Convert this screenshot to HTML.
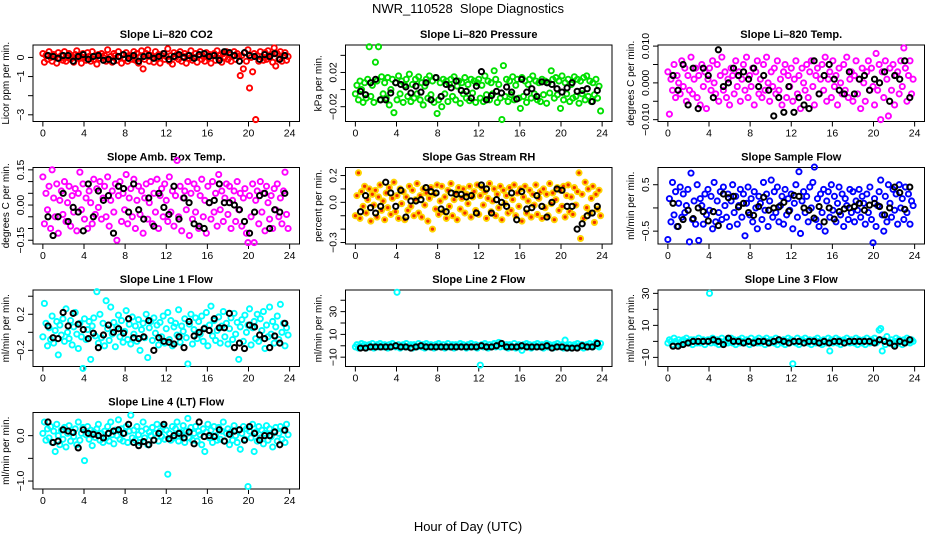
<!DOCTYPE html>
<html><head><meta charset="utf-8">
<style>
html,body{margin:0;padding:0;background:#fff;}
svg{display:block;font-family:"Liberation Sans",Arial,sans-serif;}
</style></head>
<body>
<svg id="chart" width="936" height="540" viewBox="0 0 936 540" xmlns="http://www.w3.org/2000/svg">
<rect width="936" height="540" fill="#fff"/>
<text x="468" y="13" text-anchor="middle" font-size="13">NWR_110528&#160; Slope Diagnostics</text>
<text x="468" y="531" text-anchor="middle" font-size="13">Hour of Day (UTC)</text>
</svg>
<script>
const xTicks = [0,4,8,12,16,20,24];

const co2Vals = [.2,-.25,.1,-.1,.3,0,-.2,.15,.05,-.3,.25,-.05,.1,-.15,.3,-.2,0,.2,-.1,.05,
-.25,.15,.35,-.05,.1,-.3,.2,0,-.15,.25,.05,-.2,.3,-.1,.1,-.35,.15,-.05,.2,0,
.1,-.2,.4,-.1,.05,-.25,.2,.1,-.15,.3,0,-.3,.15,-.05,.25,-.2,.1,.05,-.1,.3,
-.15,.2,-.3,.05,.35,-.6,-.1,.2,.4,-.2,.1,0,-.25,.3,-.05,.15,-.3,.1,.2,-.1,
.05,.45,-.2,.1,-.35,.25,0,.15,-.1,.3,-.2,.05,.2,-.3,.1,-.05,.35,-.15,0,.2,
-.25,.1,.3,-.1,.05,-.2,.25,0,.15,-.3,.1,.2,-.15,.35,-.05,.1,-.25,.2,0,.3,
-.1,.15,-.2,.05,.3,-.1,.2,.05,-.95,.1,-.6,.25,-.2,.4,-1.6,0,-.75,.2,-3.25,.1,
-.2,.3,.05,-.15,.25,-.1,.35,0,.15,-.25,.5,-.45,.2,-.1,.3,-.2,.1,.25,-.15,.05];
const co2Black = [.1,.05,-.05,.1,.1,-.2,.05,.15,-.1,.05,.1,-.15,-.1,-.2,.05,.15,-.05,.1,-.2,.05,.1,-.05,.05,.2,-.1,.05,.15,0,.1,-.05,.15,.2,.05,.1,-.15,.3,.25,.1,-.2,.25,.1,.05,-.1,.15,.05,.2,-.1,.1];

const presVals = [-.005,.005,-.012,.01,0,-.015,.008,-.01,.012,.05,-.008,.005,-.015,.032,.01,.05,-.012,.015,-.005,.008,
-.01,.014,-.018,0,.012,-.027,.008,-.012,.016,-.005,.01,-.015,.005,.012,-.008,.018,-.014,.006,-.01,.012,
-.005,.015,-.012,.008,-.018,.004,.012,-.01,.016,-.006,.01,-.015,.014,-.028,-.012,.008,-.02,.012,-.005,.01,
-.014,.006,.012,-.008,.015,-.012,.004,.01,-.016,.008,-.005,.014,-.01,.006,-.013,.012,-.004,.01,-.015,.008,
.012,-.01,.005,-.014,.016,-.006,.01,-.012,.008,-.005,.022,.012,-.015,.006,-.01,-.035,.028,-.008,.012,-.014,
.01,-.006,.015,-.012,.005,.012,-.01,-.022,.014,-.008,.01,-.015,.006,.012,-.01,.016,-.005,.01,-.012,.008,
-.014,.012,-.006,.01,-.016,.008,-.004,.022,.012,-.01,.014,-.006,.01,-.022,.016,-.012,.008,-.005,.012,-.014,
.006,-.01,.015,-.008,.012,-.016,.01,-.005,.014,-.012,.016,-.008,.01,-.014,.008,-.006,.012,-.01,.004,-.025];
const presBlack = [-.002,-.006,.008,.012,-.012,-.012,-.004,.008,.006,.003,-.004,.004,-.003,.008,-.012,.014,-.008,.006,.002,.01,-.001,-.002,-.01,.004,.021,-.012,-.007,-.002,-.004,.003,-.003,-.011,.012,-.003,.001,-.008,.009,.008,.006,.001,-.003,.002,.008,-.002,-.001,.001,-.014,-.001];

const tempVals = [.003,-.0085,.001,-.002,.005,-.004,.002,0,-.003,.006,-.001,.004,-.005,.002,-.002,.007,-.003,.001,.004,-.004,
.002,-.006,.005,-.001,.003,-.007,.001,.004,-.002,.006,0,-.003,.005,-.005,.002,.007,-.002,.003,-.004,.001,
-.006,.004,.002,-.003,.006,-.001,.003,-.005,.001,.005,-.002,.007,-.004,.002,-.001,.004,-.006,.003,.006,-.003,
.001,-.004,.005,-.002,.007,0,-.005,.003,-.001,.004,-.003,.006,-.002,.001,-.006,.003,.005,-.004,.002,-.001,
.004,-.005,.001,.006,-.003,.002,-.007,.004,0,-.002,.005,-.004,.003,.006,-.001,-.006,.002,.004,-.003,.001,
.005,-.002,.007,-.005,.001,.003,-.004,.006,-.001,.002,-.006,.004,0,-.003,.005,-.002,.007,-.004,.001,.003,
-.005,.002,.006,-.003,.001,-.007,.004,0,-.005,.003,.006,-.002,.004,-.001,-.006,.008,-.002,.005,-.01,.003,
-.004,.006,.001,-.009,.004,-.002,.005,-.006,.002,.003,-.003,.006,-.001,.0095,.004,-.005,.002,.006,-.003,.001];
const tempBlack = [.002,-.002,.005,-.006,.004,-.007,.004,.002,-.004,.009,-.001,0,.004,.002,.003,.001,.004,-.001,.002,-.002,-.009,-.004,-.008,-.001,-.008,-.004,-.006,-.007,.006,-.003,.002,.005,.001,-.002,-.003,.003,-.003,.001,.002,-.002,.001,0,.003,-.005,.002,.001,.006,-.004];

const boxVals = [.12,-.08,.05,-.02,.08,-.1,.15,.03,-.05,.09,-.12,.02,.06,-.04,.1,-.07,.01,.08,-.09,.04,
-.03,.07,-.11,.05,.14,-.02,.09,-.06,.03,-.1,.06,.01,-.08,.11,-.04,.07,-.01,.1,-.06,.03,
.08,-.05,.12,-.09,.02,.06,-.03,.09,-.15,.04,.1,-.07,.05,-.02,.13,-.08,.03,.07,-.05,.11,
-.1,.02,.08,-.04,.06,-.12,.03,.09,-.06,.01,.1,-.08,.05,-.03,.11,-.1,.04,.07,-.05,.09,
.02,-.07,.12,-.03,.06,-.09,.04,.19,-.05,.08,-.11,.03,.06,-.02,.1,-.13,.05,-.06,.09,-.03,
.07,-.1,.04,.11,-.05,.02,-.12,.08,.01,-.06,.1,-.03,.05,-.09,.13,-.02,.06,-.07,.03,.09,
-.04,.08,-.1,.02,.06,-.07,.1,-.02,.05,-.09,.03,.07,-.12,-.16,.04,-.05,.09,-.16,.02,.06,
-.08,.1,-.03,.05,-.11,.08,.01,-.06,.04,-.1,.07,-.02,.09,-.05,.03,-.08,.06,.14,-.04,-.1];
const boxBlack = [-.05,-.13,-.05,.05,-.07,-.01,-.03,-.11,.09,-.05,.06,.02,.04,-.12,.08,.07,-.03,.09,-.02,-.06,.03,-.09,.05,-.01,-.04,.08,-.06,.03,.01,-.08,-.09,-.1,.01,.02,.09,.01,.01,0,-.02,-.07,-.12,-.03,.04,.05,-.1,-.02,-.03,.05];

const rhVals = [-.1,.05,.22,-.12,.08,-.03,.12,-.08,.02,.1,-.14,.06,-.02,.09,-.11,.04,.13,-.06,.01,-.13,
.07,-.04,.11,-.09,.03,.15,-.07,.05,-.12,.1,-.01,.08,-.13,.04,-.06,.12,-.03,.09,-.1,.02,
.14,-.08,.05,-.11,.1,-.02,.07,-.14,.03,.11,-.2,.06,-.05,.13,-.09,.01,.12,-.07,.04,-.12,
.09,-.03,.14,-.1,.02,.07,-.13,.11,-.05,.03,.1,-.08,.06,-.01,.12,-.11,.04,.08,-.06,.13,
-.09,.05,.11,-.02,.08,-.12,.03,.14,-.07,.01,.1,-.1,.06,-.04,.12,-.13,.09,-.01,.05,-.08,
.11,-.06,.02,.13,-.1,.07,-.03,.1,-.14,.04,.12,-.08,.01,.09,-.11,.06,-.02,.13,-.09,.03,
.08,-.12,.1,-.04,.06,-.1,.14,-.01,.07,-.13,.02,.11,-.06,.09,-.03,.12,-.11,.05,.13,-.07,
.04,-.09,.11,-.02,.08,.22,-.27,.06,-.12,.15,-.04,.1,-.08,.03,.12,-.15,.06,-.05,.09,-.1];
const rhBlack = [-.07,.05,-.04,-.08,-.03,.15,.07,-.03,.09,-.11,.01,.01,.02,.11,.08,.07,-.05,-.07,.07,.06,.06,.04,.05,-.08,.13,.1,-.08,.02,0,-.03,.07,-.13,.08,-.05,-.04,.05,-.03,-.11,0,.1,.09,-.03,-.03,-.2,-.16,-.1,-.08,-.03];

const sampleVals = [-.68,.2,-.3,.55,-.15,.35,-.4,.1,.45,-.2,.3,-.1,.05,.4,-.73,.75,-.25,.15,-.35,.5,
-.7,.2,.05,-.35,.3,-.15,.4,-.05,.25,-.45,.55,-.3,.15,-.1,.35,-.25,.45,.05,-.2,.3,
-.4,.15,.5,-.1,.25,-.35,.05,.4,-.2,.3,-.6,.1,.45,-.15,.2,-.3,.35,0,-.45,.25,
.1,-.25,.55,-.05,.3,-.4,.15,.6,-.2,.35,-.1,.45,-.3,.05,.25,-.35,.4,-.15,.2,-.05,
.3,-.45,.1,.5,-.2,.78,-.55,.15,.35,-.1,.25,-.3,.45,0,.55,.88,-.25,.2,-.4,.3,
-.1,.4,-.5,.15,.35,-.2,.5,-.05,.25,-.3,.1,.45,-.15,.3,-.4,.2,.05,-.25,.4,-.1,
.35,-.3,.15,-.05,.4,-.2,.25,.1,-.35,.3,-.1,.45,-.25,-.75,.2,-.4,.05,.35,.6,-.15,
-.5,.25,-.3,.5,.1,-.2,.4,-.05,.3,-.35,.5,0,.2,-.25,.45,-.1,.3,-.35,.15,.05];
const sampleBlack = [.1,-.4,-.25,-.05,-.23,0,-.08,-.28,-.08,-.38,.3,.22,.25,.02,.1,-.1,-.16,.03,.23,-.05,0,.02,.12,-.07,.27,.25,0,-.05,-.22,.03,-.3,0,-.24,-.08,-.02,0,.03,.1,-.05,.06,.1,.03,-.15,0,.45,.33,-.03,.45];

const line1Vals = [-.05,.32,.1,-.15,.05,-.08,.18,-.12,.02,.12,-.25,.08,-.03,.15,-.1,.26,0,-.07,.13,-.14,
.06,.22,-.02,-.18,.1,-.05,-.4,.15,-.08,.03,.12,-.3,.07,.16,-.04,.45,-.12,.2,-.06,.1,
-.15,.35,.04,-.09,.28,-.02,.11,-.16,.06,.19,-.05,.13,-.11,.01,.24,-.08,.09,-.13,.17,-.02,
.07,-.1,.14,-.2,.03,.1,-.06,.2,-.28,.05,.12,-.09,.16,-.01,.08,-.14,.11,-.05,.18,-.12,
.04,.22,-.08,.13,-.15,.06,.1,-.03,.25,-.11,.07,.01,.15,-.06,-.35,.09,.2,-.13,.03,.16,
-.07,.12,-.02,.18,-.1,.05,.22,-.15,.08,.29,-.04,.13,-.09,.02,.17,-.12,.07,.23,-.05,.1,
-.13,.04,.16,-.08,.21,-.02,.11,-.3,.06,.14,-.1,.19,0,.08,.26,-.14,.05,.12,-.07,.2,
-.1,.15,.02,.23,-.18,.08,-.05,.28,-.02,.12,-.12,.06,.18,-.08,.31,0,.1,-.15,.05,-.03];
const line1Black = [.07,-.06,-.07,.22,.07,.21,.09,.03,-.07,-.01,-.17,-.03,.08,0,.04,-.01,.15,-.06,-.07,-.05,.13,-.2,-.06,-.1,-.11,-.13,-.05,-.17,.12,-.04,0,.04,.02,.15,.05,.05,.21,-.17,-.12,-.18,.08,.06,-.03,-.07,-.17,-.04,-.12,.1];

const line2Vals = [-1,1,-2,0,2,-1,1,-2,0,1,-1,2,-2,0,1,-1,2,0,-1,1,
0,-2,1,-1,2,0,-1,47,1,-2,0,1,-1,2,-1,0,1,-2,1,0,
-1,2,0,-1,1,-2,2,0,-1,1,0,-2,1,-1,2,0,-1,1,-2,0,
2,-1,0,1,-2,1,-1,0,2,-1,1,0,-2,1,-1,2,0,-1,1,-2,
0,-17,1,-1,2,0,-2,1,-1,0,2,-1,1,3,-1,2,0,-1,1,-2,
1,0,-1,2,-2,0,1,-1,-4,1,0,2,-1,1,-2,0,1,-1,2,0,
-1,1,-2,0,2,-1,1,0,-2,1,-1,2,0,-1,1,-2,5,0,-1,1,
-2,0,1,-1,2,0,-1,1,-2,0,1,-1,2,0,-1,1,3,0,-1,2];
const line2Black = [-2,-2,-1,-1,-1,-1,-1,0,-1,-1,-2,-1,0,-1,-1,-1,-1,-1,-1,-1,-1,-1,-1,-1,0,-1,-1,0,2,-1,-1,-1,0,-1,-1,-1,-1,0,-2,-1,-1,-2,-2,-2,0,-1,-1,2];

const line3Vals = [-1,1,0,-2,2,0,-1,1,-2,0,1,-1,2,0,-1,1,-2,1,0,-1,
2,-1,0,1,-2,0,1,30,-1,2,0,-1,1,-2,0,2,-1,0,1,-1,
0,2,-1,1,-2,0,1,-1,2,0,-1,1,0,-2,2,-1,0,1,-1,2,
-1,0,1,-2,2,0,-1,1,0,-1,2,-2,1,0,-1,1,-2,0,2,-1,
1,-14,0,-1,2,-2,0,1,-1,2,0,-1,1,-2,0,1,-1,2,0,-1,
-2,1,0,-1,2,-6,1,-1,0,2,-1,1,-2,0,1,-1,2,0,-1,1,
0,-1,2,-2,1,0,-1,1,-2,2,0,-1,1,0,2,-1,0,7,8,-6,
1,-2,3,0,-1,1,-2,0,2,-1,1,0,-2,1,-1,2,0,-1,1,0];
const line3Black = [-3,-3,-2,-1,0,0,0,0,1,0,-2,2,0,0,-1,0,-1,0,0,-1,0,1,0,-1,0,0,-1,0,0,-1,0,-1,0,0,-1,0,0,0,0,0,-1,1,0,-1,-3,0,-1,1];

const line4Vals = [.05,.3,-.1,.15,-.05,.2,-.15,.1,-.35,.25,0,-.2,.12,-.08,.18,-.25,.05,.22,-.12,.08,
-.02,.15,-.2,.3,-.1,.05,.18,-.55,.02,.2,-.08,.12,-.22,.08,-.04,.15,.25,-.1,.05,-.15,
.1,-.05,.2,-.12,.3,.02,-.18,.12,0,.35,-.08,.15,-.12,.05,.2,-.15,.1,.45,-.05,.12,
-.1,.2,.02,-.15,.1,.3,-.05,.15,-.2,.08,0,.18,-.1,.05,.25,-.12,.1,-.02,.2,-.08,
.12,-.85,.05,-.1,.2,-.05,.15,.3,-.12,.08,0,.22,-.15,.1,.38,-.05,.18,-.1,.05,.2,
-.12,.1,.02,-.2,.15,-.35,.08,.25,-.05,.12,-.15,.2,0,-.1,.18,-.08,.1,.3,-.12,.05,
.15,-.2,.08,-.1,.22,0,-.15,.12,-.3,.05,.2,-.08,.15,-1.12,.1,-.05,.25,-.35,.08,-.12,
.2,-.05,.12,-.18,.05,.22,-.1,.15,-.02,-.25,.1,.18,-.12,.05,.2,-.08,.12,-.15,.25,.02];
const line4Black = [.3,-.15,-.12,.13,.1,.07,-.27,.13,.05,.03,0,-.05,.05,.1,.13,.05,.25,-.15,-.22,-.13,-.2,-.1,.05,.25,-.07,0,.05,-.05,.08,-.18,.3,-.02,0,-.02,.13,-.12,.03,.1,.13,-.1,.2,.05,-.1,0,0,.08,-.2,.12];

const panels = [
 {name:'co2',title:'Slope Li\u2013820 CO2',ylab:'Licor ppm per min.',col:0,row:0,ymin:-3.35,ymax:0.65,ticks:[0,-1,-2,-3],labels:[0,-1,-3],fmt:v=>v===0?'0':String(v).replace('-','\u2212'),color:'#ff0000',vals:co2Vals,black:co2Black},
 {name:'pressure',title:'Slope Li\u2013820 Pressure',ylab:'kPa per min.',col:1,row:0,ymin:-0.0373,ymax:0.0521,ticks:[-0.02,0,0.02,0.04],labels:[-0.02,0.02],fmt:v=>(v<0?'\u2212':'')+Math.abs(v).toFixed(2),color:'#00e000',vals:presVals,black:presBlack},
 {name:'li820-temp',title:'Slope Li\u2013820 Temp.',ylab:'degrees C per min.',col:2,row:0,ymin:-0.0105,ymax:0.0103,ticks:[-0.01,-0.005,0,0.005,0.01],labels:[-0.01,0,0.01],fmt:v=>(v<0?'\u2212':'')+Math.abs(v).toFixed(3),color:'#ff00ff',vals:tempVals,black:tempBlack},
 {name:'box-temp',title:'Slope Amb. Box Temp.',ylab:'degrees C per min.',col:0,row:1,ymin:-0.166,ymax:0.16,ticks:[-0.15,-0.1,-0.05,0,0.05,0.1,0.15],labels:[-0.15,0,0.15],fmt:v=>(v<0?'\u2212':'')+Math.abs(v).toFixed(2),color:'#ff00ff',vals:boxVals,black:boxBlack},
 {name:'gas-rh',title:'Slope Gas Stream RH',ylab:'percent per min.',col:1,row:1,ymin:-0.311,ymax:0.26,ticks:[-0.3,-0.2,-0.1,0,0.1,0.2],labels:[-0.3,0,0.2],fmt:v=>(v<0?'\u2212':'')+Math.abs(v).toFixed(1),color:'#ffd400',fill:'#f03000',vals:rhVals,black:rhBlack},
 {name:'sample-flow',title:'Slope Sample Flow',ylab:'ml/min per min.',col:2,row:1,ymin:-0.777,ymax:0.871,ticks:[-0.5,0,0.5],labels:[-0.5,0.5],fmt:v=>(v<0?'\u2212':'')+Math.abs(v).toFixed(1),color:'#0000ff',vals:sampleVals,black:sampleBlack},
 {name:'line1-flow',title:'Slope Line 1 Flow',ylab:'ml/min per min.',col:0,row:2,ymin:-0.379,ymax:0.469,ticks:[-0.2,0,0.2,0.4],labels:[-0.2,0.2],fmt:v=>(v<0?'\u2212':'')+Math.abs(v).toFixed(1),color:'#00ffff',vals:line1Vals,black:line1Black},
 {name:'line2-flow',title:'Slope Line 2 Flow',ylab:'ml/min per min.',col:1,row:2,ymin:-18.2,ymax:49,ticks:[-10,0,10,20,30,40],labels:[-10,10,30],fmt:v=>(v<0?'\u2212':'')+Math.abs(v),color:'#00ffff',vals:line2Vals,black:line2Black},
 {name:'line3-flow',title:'Slope Line 3 Flow',ylab:'ml/min per min.',col:2,row:2,ymin:-15.7,ymax:32.1,ticks:[-10,0,10,20,30],labels:[-10,10,30],fmt:v=>(v<0?'\u2212':'')+Math.abs(v),color:'#00ffff',vals:line3Vals,black:line3Black},
 {name:'line4-flow',title:'Slope Line 4 (LT) Flow',ylab:'ml/min per min.',col:0,row:3,ymin:-1.175,ymax:0.51,ticks:[-1,-0.5,0],labels:[-1,0],fmt:v=>(v<0?'\u2212':'')+Math.abs(v).toFixed(1),color:'#00ffff',vals:line4Vals,black:line4Black}
];

const NS='http://www.w3.org/2000/svg';
const svg=document.getElementById('chart');
const colLeft=[33,345.5,658], boxW=266.5;
const rowTop=[45,167.5,290,412.5], boxH=76.5;
function mk(tag,attrs,parent){const e=document.createElementNS(NS,tag);for(const k in attrs)e.setAttribute(k,attrs[k]);(parent||svg).appendChild(e);return e;}

panels.forEach(p=>{
  const L=colLeft[p.col], T=rowTop[p.row], R=L+boxW, B=T+boxH;
  const xs=h=>L+(h+0.96)/25.92*boxW;
  const ys=v=>B-(v-p.ymin)/(p.ymax-p.ymin)*boxH;
  const g=mk('g',{});
  
  
  const t=mk('text',{x:(L+R)/2,y:T-7,'text-anchor':'middle','font-size':'11','font-weight':'bold'},g);
  t.textContent=p.title;
  
  
  const yl=mk('text',{transform:`translate(${L-24},${(T+B)/2}) rotate(-90)`,'text-anchor':'middle','font-size':'10'},g);
  yl.textContent=p.ylab;
  
  
  mk('line',{x1:xs(0),x2:xs(24),y1:B,y2:B,stroke:'#000','stroke-width':1},g);
  xTicks.forEach(h=>{
    mk('line',{x1:xs(h),x2:xs(h),y1:B,y2:B+5,stroke:'#000','stroke-width':1},g);
    const tl=mk('text',{x:xs(h),y:B+15,'text-anchor':'middle','font-size':'10.5'},g);
    tl.textContent=h;
    
    
  });
  const tv=p.ticks.filter(v=>v>=p.ymin&&v<=p.ymax);
  mk('line',{x1:L,x2:L,y1:ys(Math.min(...tv)),y2:ys(Math.max(...tv)),stroke:'#000','stroke-width':1},g);
  tv.forEach(v=>{
    mk('line',{x1:L-5,x2:L,y1:ys(v),y2:ys(v),stroke:'#000','stroke-width':1},g);
  });
  p.labels.forEach(v=>{
    const tl=mk('text',{transform:`translate(${L-9},${ys(v)}) rotate(-90)`,'text-anchor':'middle','font-size':'10.5'},g);
    tl.textContent=p.fmt(v);
    
    
  });
  mk('rect',{x:L,y:T,width:boxW,height:boxH,fill:'none',stroke:'#000','stroke-width':1},g);
  p.vals.forEach((v,i)=>{
    const h=i*24/p.vals.length;
    const c=mk('circle',{cx:xs(h),cy:ys(v),r:2.6,fill:p.fill||'none',stroke:p.color,'stroke-width':1.9},g);
    
    
  });
  p.black.forEach((v,i)=>{
    const h=0.5+i*0.49;
    const c=mk('circle',{cx:xs(h),cy:ys(v),r:2.6,fill:'none',stroke:'#000','stroke-width':2},g);
    
    
  });
});
</script>
</body></html>
